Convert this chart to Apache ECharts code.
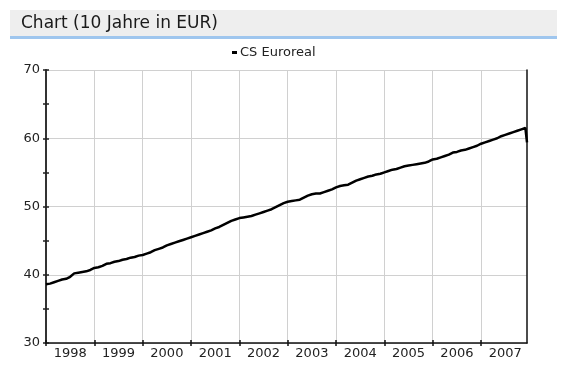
<!DOCTYPE html>
<html>
<head>
<meta charset="utf-8">
<script src="https://cdn.jsdelivr.net/npm/echarts@6/dist/echarts.min.js"></script>
<style>
html,body{margin:0;padding:0;background:#fff;}
#c{width:565px;height:377px;}
</style>
</head>
<body>
<div id="c"></div>
<script>
// Monthly values (start of each month), Jan 1998 .. Dec 2007
const startYear = 1998;
const seriesName = 'CS Euroreal';
const v1998 = [38.6, 38.7, 38.9, 39.1, 39.3, 39.4, 39.7, 40.2, 40.3, 40.4, 40.5, 40.7];
const v1999 = [41.0, 41.1, 41.3, 41.6, 41.7, 41.9, 42.0, 42.2, 42.3, 42.5, 42.6, 42.8];
const v2000 = [42.9, 43.1, 43.3, 43.6, 43.8, 44.0, 44.3, 44.5, 44.7, 44.9, 45.1, 45.3];
const v2001 = [45.5, 45.7, 45.9, 46.1, 46.3, 46.5, 46.8, 47.0, 47.3, 47.6, 47.9, 48.1];
const v2002 = [48.3, 48.4, 48.5, 48.6, 48.8, 49.0, 49.2, 49.4, 49.6, 49.9, 50.2, 50.5];
const v2003 = [50.7, 50.8, 50.9, 51.0, 51.3, 51.6, 51.8, 51.9, 51.9, 52.1, 52.3, 52.5];
const v2004 = [52.8, 53.0, 53.1, 53.2, 53.5, 53.8, 54.0, 54.2, 54.4, 54.5, 54.7, 54.8];
const v2005 = [55.0, 55.2, 55.4, 55.5, 55.7, 55.9, 56.0, 56.1, 56.2, 56.3, 56.4, 56.6];
const v2006 = [56.9, 57.0, 57.2, 57.4, 57.6, 57.9, 58.0, 58.2, 58.3, 58.5, 58.7, 58.9];
const v2007 = [59.2, 59.4, 59.6, 59.8, 60.0, 60.3, 60.5, 60.7, 60.9, 61.1, 61.3, 61.5];
// last trading point and final drop at end of chart
const endTime = 2007.95;
const endValues = [61.5, 59.4];
const yearLabels = ['1998','1999','2000','2001','2002','2003','2004','2005','2006','2007'];
const yTicks = [30, 40, 50, 60, 70];

const monthly = [].concat(v1998, v1999, v2000, v2001, v2002, v2003, v2004, v2005, v2006, v2007);
const data = monthly.map((v, i) => [startYear + i / 12, v]);
endValues.forEach(v => data.push([endTime, v]));
const yearTicks = yearLabels.map(y => +y);

const chart = echarts.init(document.getElementById('c'), null, {renderer: 'canvas'});
const font = '"DejaVu Sans", Verdana, sans-serif';
chart.setOption({
  animation: false,
  backgroundColor: '#fff',
  graphic: [
    {type: 'rect', shape: {x: 10, y: 10, width: 547, height: 26}, style: {fill: '#eeeeee'}, z: -1},
    {type: 'rect', shape: {x: 10, y: 36, width: 547, height: 3}, style: {fill: '#9fc6ee'}, z: -1},
    {type: 'text', left: 21, top: 15, style: {text: 'Chart (10 Jahre in EUR)', font: '17px ' + font, fill: '#1a1a1a'}}
  ],
  legend: {
    data: [{name: seriesName, icon: 'rect'}],
    top: 41, left: 227,
    itemWidth: 5, itemHeight: 3, itemGap: 4,
    textStyle: {fontSize: 13, fontFamily: font, color: '#222', padding: [0, 0, 0, -2]}
  },
  grid: {left: 46, right: 38, top: 70, bottom: 34, containLabel: false},
  xAxis: [{
    type: 'value', min: startYear, max: endTime, interval: 1,
    axisLine: {show: true, lineStyle: {color: '#111', width: 1.5}},
    axisTick: {show: true, inside: true, length: 3, lineStyle: {color: '#111', width: 1.5},
      customValues: yearTicks},
    axisLabel: {
      customValues: yearTicks.map(y => y + 0.5),
      formatter: v => String(Math.floor(v)),
      fontSize: 13, fontFamily: font, color: '#222', margin: 4
    },
    splitLine: {show: true, lineStyle: {color: '#d0d0d0', width: 1}}
  }, {
    type: 'value', min: startYear, max: endTime, position: 'bottom',
    axisLine: {show: false},
    axisTick: {show: true, inside: false, length: 3, lineStyle: {color: '#111', width: 1.5},
      customValues: yearTicks},
    axisLabel: {show: false}, splitLine: {show: false}
  }],
  yAxis: [{
    type: 'value', min: yTicks[0], max: yTicks[yTicks.length - 1], interval: 10,
    axisLine: {show: true, lineStyle: {color: '#333', width: 2}},
    axisTick: {show: true, length: 3, lineStyle: {color: '#222', width: 1.5}},
    minorTick: {show: true, splitNumber: 2, length: 3, lineStyle: {color: '#222', width: 1.5}},
    axisLabel: {fontSize: 13, fontFamily: font, color: '#222', margin: 6},
    splitLine: {show: true, lineStyle: {color: '#d0d0d0', width: 1}}
  }, {
    type: 'value', min: yTicks[0], max: yTicks[yTicks.length - 1], interval: 10, position: 'left',
    axisLine: {show: false},
    axisTick: {show: true, inside: true, length: 3, lineStyle: {color: '#222', width: 1.5}},
    minorTick: {show: true, splitNumber: 2, length: 3, lineStyle: {color: '#222', width: 1.5}},
    axisLabel: {show: false}, splitLine: {show: false}
  }, {
    type: 'value', min: yTicks[0], max: yTicks[yTicks.length - 1], position: 'right',
    axisLine: {show: true, lineStyle: {color: '#111', width: 1.5}},
    axisTick: {show: false}, axisLabel: {show: false}, splitLine: {show: false}
  }],
  series: [{
    name: seriesName, type: 'line', data: data,
    xAxisIndex: 0, yAxisIndex: 0,
    showSymbol: false, symbol: 'none',
    lineStyle: {color: '#000', width: 2.5},
    itemStyle: {color: '#000'}
  }]
});
</script>
</body>
</html>
